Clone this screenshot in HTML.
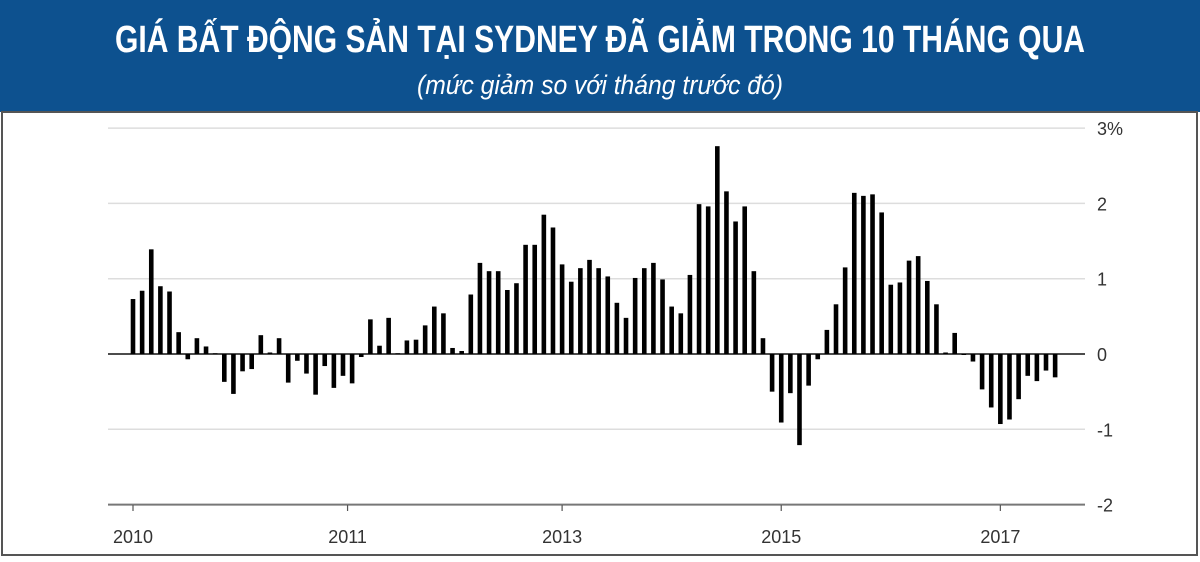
<!DOCTYPE html>
<html><head><meta charset="utf-8"><style>
html,body{margin:0;padding:0;background:#fff;}
body{width:1200px;height:557px;overflow:hidden;position:relative;font-family:"Liberation Sans",sans-serif;}
</style></head><body>
<svg width="1200" height="557" viewBox="0 0 1200 557">
<rect x="0" y="0" width="1200" height="112" fill="#0d518f"/>
<rect x="2" y="112" width="1195" height="443" fill="#fff" stroke="#555" stroke-width="2"/>
<text x="600" y="52" text-anchor="middle" fill="#fff" font-family="'Liberation Sans Narrow','Liberation Sans',sans-serif" font-weight="bold" font-size="38" textLength="970" lengthAdjust="spacingAndGlyphs">GIÁ BẤT ĐỘNG SẢN TẠI SYDNEY ĐÃ GIẢM TRONG 10 THÁNG QUA</text>
<text x="600" y="94" text-anchor="middle" fill="#fff" font-family="'Liberation Sans Narrow','Liberation Sans',sans-serif" font-style="italic" font-size="27" textLength="366" lengthAdjust="spacingAndGlyphs">(mức giảm so với tháng trước đó)</text>
<g id="grid"></g>
<g id="bars"></g>
<g id="axes"></g>
</svg>
<script>
const values = [0.73,0.84,1.39,0.9,0.83,0.29,-0.07,0.21,0.1,0.01,-0.37,-0.53,-0.23,-0.2,0.25,0.02,0.21,-0.38,-0.09,-0.26,-0.54,-0.16,-0.45,-0.29,-0.39,-0.04,0.46,0.11,0.48,0.01,0.18,0.19,0.38,0.63,
0.54,0.08,0.04,0.79,1.21,1.1,1.1,0.85,0.94,1.45,1.45,1.85,1.68,1.19,0.96,1.14,1.25,1.14,1.03,0.68,0.48,1.01,1.14,1.21,0.99,0.63,0.54,1.05,1.99,1.96,2.76,2.16,1.76,1.96,1.1,0.21,
-0.5,-0.91,-0.52,-1.21,-0.42,-0.07,0.32,0.66,1.15,2.14,2.1,2.12,1.88,0.92,0.95,1.24,1.3,0.97,0.66,0.02,0.28,-0.01,-0.1,-0.47,-0.71,-0.93,-0.87,-0.6,-0.29,-0.36,-0.22,-0.31];
const yTicks = [3,2,1,0,-1,-2];
const yTickLabels = ["3%","2","1","0","-1","-2"];
const xTickLabels = ["2010","2011","2013","2015","2017"];
const xTickIndex = [0,23.5,47,71,95];

const NS="http://www.w3.org/2000/svg";
function y(v){return 354 - v*75.3;}
function x(i){return 133 + i*9.13;}
function mk(tag,attrs,parent){const e=document.createElementNS(NS,tag);for(const k in attrs)e.setAttribute(k,attrs[k]);parent.appendChild(e);return e;}
const grid=document.getElementById('grid'), bars=document.getElementById('bars'), axes=document.getElementById('axes');
yTicks.forEach((t,k)=>{
  const ln=mk('line',{x1:108,x2:1085,y1:y(t),y2:y(t),stroke:t===0?'#111':(t===-2?'#777':'#ddd'),'stroke-width':t===0?1.6:(t===-2?2:1.5)},grid);
  
  
  const tx=mk('text',{x:1097,y:y(t)+7,'font-size':18,fill:'#333'},axes);
  tx.textContent=yTickLabels[k];
  
  
});
values.forEach((v,i)=>{
  const r=mk('rect',{x:x(i)-2.3,width:4.6,y:Math.min(y(v),y(0)),height:Math.max(Math.abs(y(v)-y(0)),1),fill:'#000'},bars);
  
  
});
xTickLabels.forEach((l,k)=>{
  const cx=x(xTickIndex[k]);
  const tk=mk('line',{x1:cx,x2:cx,y1:505,y2:511,stroke:'#555','stroke-width':1.2},axes);
  
  
  const tx=mk('text',{x:cx,y:543,'text-anchor':'middle','font-size':18,fill:'#333'},axes);
  tx.textContent=l;
  
  
});
</script>
</body></html>
